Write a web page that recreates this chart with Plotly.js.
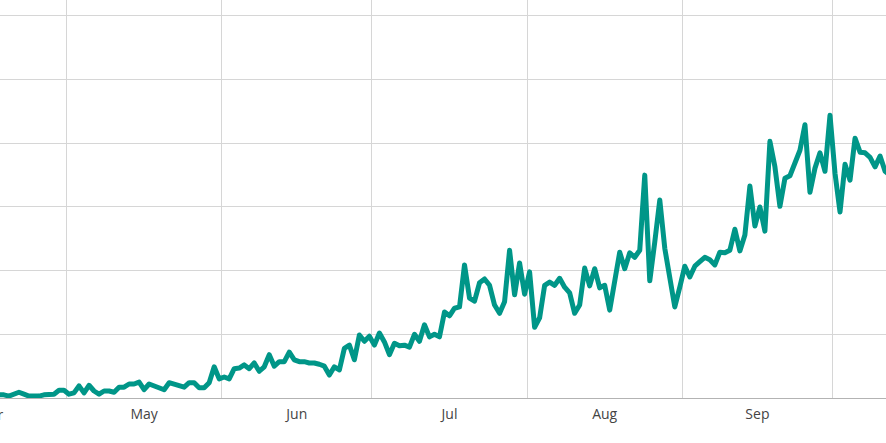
<!DOCTYPE html>
<html>
<head>
<meta charset="utf-8">
<script src="https://cdn.plot.ly/plotly-3.0.1.min.js"></script>
<style>
html,body{margin:0;padding:0;background:#fff;}
#chart{width:886px;height:443px;}
#chart path.js-line{stroke-linejoin:round !important;stroke-linecap:round !important;}
</style>
</head>
<body>
<div id="chart"></div>
<script>
// Daily series starting 2023-04-17 (one value per day)
const startDate = '2023-04-17';
const values = [
  0.5, 0.5, 0.3, 0.6, 0.9, 0.6, 0.3, 0.3, 0.3, 0.5,
  0.6, 0.6, 1.2, 1.2, 0.6, 0.8, 1.9, 0.8, 2.0, 1.1,
  0.6, 1.1, 1.1, 0.9, 1.7, 1.7, 2.2, 2.2, 2.5, 1.3,
  2.2, 1.9, 1.4, 1.3, 2.4, 2.2, 1.9, 1.7, 2.4, 2.4,
  1.6, 1.6, 2.4, 4.9, 3.0, 3.3, 3.0, 4.6, 4.7, 5.2,
  4.6, 5.5, 4.2, 4.9, 6.8, 5.0, 5.7, 5.7, 7.2, 6.0,
  5.7, 5.7, 5.5, 5.5, 5.3, 5.0, 3.6, 4.9, 4.4, 7.8,
  8.3, 6.0, 9.9, 8.9, 9.7, 8.3, 10.2, 8.8, 6.8, 8.6,
  8.2, 8.3, 8.0, 10.0, 8.9, 11.5, 9.6, 10.0, 9.6, 13.5,
  12.9, 14.1, 14.3, 20.9, 15.7, 15.2, 18.1, 18.7, 17.7, 14.6,
  13.3, 15.1, 23.2, 16.2, 21.2, 16.3, 19.8, 11.1, 12.6, 17.7,
  18.2, 17.7, 18.8, 17.4, 16.5, 13.3, 14.6, 20.4, 17.6, 20.3,
  17.3, 17.7, 13.8, 18.1, 22.9, 20.3, 22.8, 22.1, 23.2, 35.0,
  18.4, 24.5, 31.1, 23.5, 19.0, 14.3, 17.4, 20.7, 19.0, 20.7,
  21.4, 22.1, 21.7, 20.9, 22.9, 22.8, 23.2, 26.5, 23.1, 25.6,
  33.3, 27.0, 30.0, 26.2, 40.3, 36.3, 30.1, 34.5, 34.9, 36.7,
  38.9, 42.9, 32.3, 36.1, 38.5, 35.6, 44.4, 35.3, 29.2, 36.7,
  34.2, 40.8, 38.6, 38.5, 37.8, 36.3, 38.0, 35.6, 35.0
];
const xRange = ['2023-04-17 17:12', '2023-10-11 16:28'];
const yRange = [0, 62.5];
// partially visible first month label (period label centred mid-month)
const edgeLabel = {text: 'Apr', periodStart: '2023-04-01', periodEnd: '2023-05-01'};

function pad(n){ return (n < 10 ? '0' : '') + n; }
function ms(s){ return new Date(s.replace(' ', 'T') + (s.length > 10 ? ':00Z' : 'T00:00:00Z')).getTime(); }
const dates = [];
const d0 = new Date(startDate + 'T12:00:00Z');
for (let i = 0; i < values.length; i++) {
  const d = new Date(d0.getTime() + i * 86400000);
  dates.push(d.getUTCFullYear() + '-' + pad(d.getUTCMonth() + 1) + '-' + pad(d.getUTCDate()) + ' 12:00');
}

const r0 = ms(xRange[0]), r1 = ms(xRange[1]);
const mid = (ms(edgeLabel.periodStart) + ms(edgeLabel.periodEnd)) / 2;
const edgeFrac = (mid - r0) / (r1 - r0);

const tickFont = {family: '"Open Sans", sans-serif', size: 14, color: '#444'};

const trace = {
  x: dates,
  y: values,
  type: 'scatter',
  mode: 'lines',
  line: {color: '#009688', width: 5},
  hoverinfo: 'x+y'
};

const layout = {
  width: 886,
  height: 443,
  margin: {l: 0, r: 0, t: 0, b: 45, pad: 0},
  paper_bgcolor: '#ffffff',
  plot_bgcolor: '#ffffff',
  showlegend: false,
  font: tickFont,
  xaxis: {
    type: 'date',
    range: xRange,
    dtick: 'M1',
    tick0: '2023-01-01',
    ticklabelmode: 'period',
    tickformat: '%b',
    ticklabelstandoff: 3,
    showgrid: true,
    gridcolor: '#d6d6d6',
    gridwidth: 1,
    showline: true,
    linecolor: '#b3b3b3',
    linewidth: 1,
    ticks: '',
    zeroline: false,
    tickfont: tickFont
  },
  yaxis: {
    range: yRange,
    dtick: 10,
    showgrid: true,
    gridcolor: '#d6d6d6',
    gridwidth: 1,
    showticklabels: false,
    zeroline: false,
    ticks: ''
  },
  annotations: [{
    text: edgeLabel.text,
    xref: 'paper', yref: 'paper',
    x: edgeFrac, y: 0,
    xanchor: 'center', yanchor: 'top',
    yshift: -5,
    showarrow: false,
    font: tickFont
  }]
};

Plotly.newPlot('chart', [trace], layout, {displayModeBar: false, staticPlot: true});
</script>
</body>
</html>
